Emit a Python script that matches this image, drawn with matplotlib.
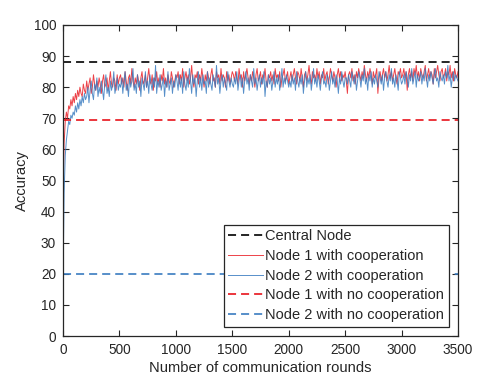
import numpy as np
import matplotlib
matplotlib.use('Agg')
import matplotlib.pyplot as plt

plt.rcParams['font.family'] = ['Liberation Sans', 'DejaVu Sans']
plt.rcParams['lines.scale_dashes'] = False

# accuracy every 10 communication rounds (0..3500)
rounds = np.arange(0, 3501, 10)

node1_coop = [
    45, 62, 69, 72, 70, 74, 73, 76, 74, 77, 75, 78, 76, 79, 77, 80, 78, 77, 81, 79, 78,
    82, 79, 81, 83, 78, 80, 84, 81, 79, 82, 80, 83, 81, 78, 82, 84, 80, 81, 83, 79,
    82, 85, 81, 80, 83, 82, 79, 84, 81, 83,
    84, 81, 83, 80, 85, 82, 79, 83, 84, 81, 86, 82, 80, 83, 81, 84, 82, 79, 83, 85,
    81, 82, 84, 80, 83, 86, 82, 81, 84, 79, 83, 82, 85, 81, 83, 80, 84, 82, 86, 81,
    83, 80, 84, 82, 81, 85, 83, 80, 82, 84,
    83, 85, 81, 84, 82, 86, 80, 83, 85, 82, 84, 81, 83, 87, 82, 80, 84, 83, 85, 81,
    84, 82, 86, 83, 80, 84, 82, 85, 83, 81, 84, 86, 82, 83, 80, 85, 83, 84, 81, 86,
    82, 84, 83, 80, 85, 82, 84, 81, 83, 85,
    84, 82, 85, 83, 81, 86, 83, 84, 80, 85, 82, 84, 86, 83, 81, 84, 82, 85, 83, 80,
    84, 86, 82, 83, 85, 81, 84, 83, 86, 82, 80, 84, 83, 85, 82, 84, 81, 86, 83, 84,
    82, 85, 80, 83, 84, 86, 82, 83, 85, 81,
    83, 85, 82, 84, 86, 83, 81, 85, 84, 82, 86, 83, 80, 84, 85, 82, 84, 87, 83, 81,
    85, 83, 84, 82, 86, 83, 85, 81, 84, 83, 86, 82, 84, 85, 81, 83, 86, 84, 82, 85,
    83, 80, 84, 86, 83, 85, 82, 84, 83, 85,
    82, 78, 84, 85, 83, 86, 82, 84, 81, 85, 83, 86, 84, 82, 85, 83, 87, 84, 82, 85,
    83, 86, 84, 81, 85, 83, 84, 86, 78, 83, 85, 82, 84, 86, 83, 85, 82, 84, 87, 83,
    85, 82, 84, 86, 83, 81, 85, 84, 86, 83,
    84, 86, 83, 85, 79, 84, 86, 83, 85, 82, 86, 84, 87, 83, 85, 82, 86, 84, 83, 85,
    87, 82, 84, 86, 83, 85, 84, 81, 86, 83, 85, 87, 84, 82, 85, 86, 83, 84, 86, 82,
    85, 84, 87, 83, 85, 82, 86, 84, 83, 85,
]

node2_coop = [
    17, 46, 58, 63, 66, 69, 68, 71, 70, 72, 71, 74, 72, 75, 73, 76, 74, 77, 75, 78, 76,
    77, 80, 75, 79, 82, 78, 76, 81, 79, 83, 77, 80, 78, 82, 79, 76, 81, 84, 78, 80,
    77, 82, 79, 81, 85, 78, 80, 83, 79, 81,
    80, 83, 78, 82, 85, 79, 81, 77, 83, 80, 82, 86, 79, 81, 78, 84, 80, 82, 77, 83,
    81, 79, 85, 80, 82, 78, 84, 81, 79, 83, 80, 87, 78, 82, 80, 84, 79, 81, 83, 77,
    82, 80, 85, 79, 81, 83, 78, 82, 80, 84,
    82, 79, 84, 80, 83, 78, 85, 81, 79, 83, 80, 86, 82, 78, 84, 81, 83, 77, 82, 85,
    80, 83, 79, 84, 81, 82, 78, 85, 80, 83, 81, 79, 84, 82, 80, 87, 81, 83, 78, 82,
    84, 80, 83, 81, 79, 85, 82, 80, 83, 81,
    80, 83, 81, 85, 79, 82, 84, 80, 83, 78, 82, 85, 81, 83, 79, 84, 82, 80, 86, 81,
    83, 79, 82, 84, 80, 83, 81, 85, 77, 82, 80, 84, 81, 83, 79, 82, 85, 80, 83, 81,
    84, 79, 82, 86, 80, 83, 81, 84, 82, 80,
    82, 80, 84, 81, 83, 79, 85, 82, 80, 83, 81, 84, 78, 82, 85, 80, 83, 81, 84, 79,
    82, 86, 81, 83, 80, 84, 82, 79, 83, 85, 81, 82, 80, 84, 83, 79, 82, 85, 81, 83,
    80, 84, 82, 78, 83, 81, 85, 82, 80, 83,
    83, 81, 84, 82, 80, 85, 83, 81, 84, 79, 82, 85, 83, 80, 84, 82, 86, 81, 83, 79,
    84, 82, 85, 80, 83, 81, 84, 82, 80, 85, 83, 81, 84, 79, 83, 85, 82, 80, 84, 82,
    86, 81, 83, 80, 84, 82, 79, 85, 83, 81,
    82, 84, 81, 85, 83, 80, 84, 82, 86, 81, 83, 85, 80, 84, 82, 83, 85, 81, 84, 82,
    86, 83, 80, 84, 82, 85, 83, 81, 84, 86, 82, 83, 80, 85, 83, 82, 84, 81, 85, 83,
    87, 82, 84, 80, 83, 85, 82, 84, 83, 82,
]

central_acc = 88.0
node1_alone = 69.5
node2_alone = 20.0

labels = ['Central Node', 'Node 1 with cooperation', 'Node 2 with cooperation',
          'Node 1 with no cooperation', 'Node 2 with no cooperation']

red = '#e8131b'
blue = '#3a7cc0'

fig = plt.figure(figsize=(4.79, 3.75), dpi=100)
ax = fig.add_axes([63 / 479, 39 / 375, 395 / 479, 311 / 375])

x0, x1 = rounds[0], rounds[-1]
dash = (5.8, 3.6)
ax.plot([x0, x1], [central_acc] * 2, color='black', lw=1.2, dashes=dash, label=labels[0])
ax.plot(rounds, node1_coop, color=red, lw=0.7, alpha=0.8, label=labels[1])
ax.plot(rounds, node2_coop, color=blue, lw=0.7, alpha=0.85, label=labels[2])
ax.plot([x0, x1], [node1_alone] * 2, color=red, lw=1.2, dashes=dash, label=labels[3])
ax.plot([x0, x1], [node2_alone] * 2, color=blue, lw=1.2, dashes=dash, label=labels[4])

ax.set_xlim(0, 3500)
ax.set_ylim(0, 100)
ax.set_xticks(np.arange(0, 3501, 500))
ax.set_yticks(np.arange(0, 101, 10))
ax.tick_params(direction='in', top=True, right=True, length=4, width=0.8,
               labelsize=9.8, colors='#262626', labelcolor='#262626', pad=5)
for s in ax.spines.values():
    s.set_color('#262626')
    s.set_linewidth(0.9)

ax.set_xlabel('Number of communication rounds', fontsize=10.6, color='#262626', labelpad=3)
ax.set_ylabel('Accuracy', fontsize=10.6, color='#262626', labelpad=3)

leg = ax.legend(loc='lower right', bbox_to_anchor=(0.976, 0.03), borderaxespad=0,
                fontsize=10.5, handlelength=2.4, handletextpad=0.15, labelspacing=0.4,
                borderpad=0.3, fancybox=False, framealpha=1, edgecolor='#262626')
leg.get_frame().set_linewidth(0.9)
for t in leg.get_texts():
    t.set_color('#262626')

fig.savefig('out.png', dpi=100)
